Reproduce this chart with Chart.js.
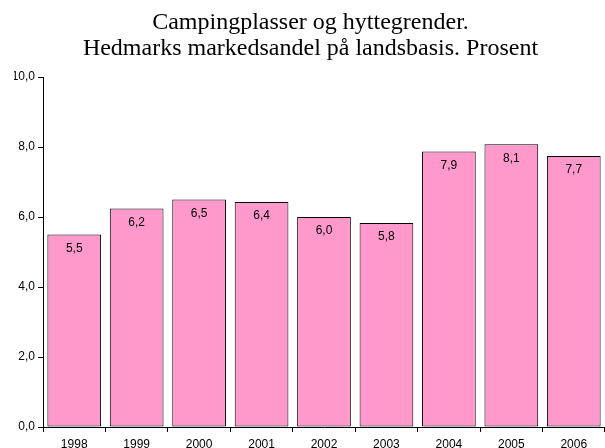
<!DOCTYPE html>
<html>
<head>
<meta charset="utf-8">
<script src="https://cdn.jsdelivr.net/npm/chart.js@4.4.1/dist/chart.umd.min.js"></script>
<style>
html,body{margin:0;padding:0;background:#fff;}
#wrap{width:605px;height:448px;position:relative;overflow:hidden;}
</style>
</head>
<body>
<div id="wrap"><canvas id="c" width="605" height="448"></canvas></div>
<script>
const years = ["1998","1999","2000","2001","2002","2003","2004","2005","2006"];
const shares = [5.5, 6.24, 6.5, 6.43, 6.0, 5.83, 7.87, 8.08, 7.74];
const yTicks = [0, 2, 4, 6, 8, 10];
const titleLines = ["Campingplasser og hyttegrender.", "Hedmarks markedsandel på landsbasis. Prosent"];

const fmt = v => v.toFixed(1).replace('.', ',');
const SANS = '"Liberation Sans", Arial, sans-serif';

const valueLabels = {
  id: 'valueLabels',
  afterDatasetsDraw(chart) {
    const ctx = chart.ctx;
    const meta = chart.getDatasetMeta(0);
    ctx.save();
    ctx.font = '12px ' + SANS;
    ctx.fillStyle = '#000';
    ctx.textAlign = 'center';
    ctx.textBaseline = 'middle';
    meta.data.forEach((bar, i) => {
      ctx.fillText(fmt(shares[i]), bar.x, bar.y + 14);
    });
    ctx.restore();
  }
};

new Chart(document.getElementById('c'), {
  type: 'bar',
  data: {
    labels: years,
    datasets: [{
      data: shares,
      backgroundColor: '#FF99CC',
      borderColor: '#000',
      borderWidth: 1,
      borderSkipped: false,
      barPercentage: 0.86,
      categoryPercentage: 1.0
    }]
  },
  options: {
    responsive: false,
    animation: false,
    devicePixelRatio: 1,
    layout: { padding: { left: 14, right: -2, top: 0, bottom: 0 } },
    plugins: {
      legend: { display: false },
      tooltip: { enabled: false },
      title: {
        display: true,
        text: titleLines,
        color: '#000',
        font: { family: '"Liberation Serif", "Times New Roman", serif', size: 24, weight: 'normal', lineHeight: 26 / 24 },
        padding: { top: 10, bottom: 15 }
      }
    },
    scales: {
      x: {
        afterFit(scale) { scale.height = 21; },
        grid: { display: true, drawOnChartArea: false, drawTicks: true, tickLength: 5, color: '#000', offset: true },
        border: { display: true, color: '#000', width: 1 },
        ticks: { color: '#000', font: { family: SANS, size: 12 }, padding: 5, maxRotation: 0, autoSkip: false }
      },
      y: {
        min: 0,
        max: 10,
        afterBuildTicks(scale) { scale.ticks = yTicks.map(v => ({ value: v })); },
        afterFit(scale) { scale.width = 29; },
        grid: { display: true, drawOnChartArea: false, drawTicks: true, tickLength: 5, color: '#000' },
        border: { display: true, color: '#000', width: 1 },
        ticks: { color: '#000', font: { family: SANS, size: 12 }, padding: 3, callback: v => fmt(v) }
      }
    }
  },
  plugins: [valueLabels]
});
</script>
</body>
</html>
